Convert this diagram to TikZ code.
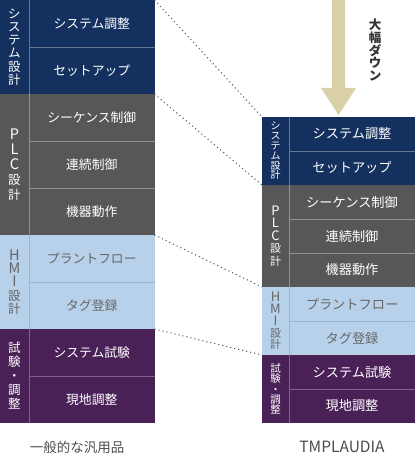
\documentclass[tikz,border=0pt]{standalone}
\usepackage{fontspec}
\setmainfont{Noto Sans CJK JP}
\definecolor{navy}{HTML}{14305E}
\definecolor{slate}{HTML}{575757}
\definecolor{lblue}{HTML}{B8D1EA}
\definecolor{plum}{HTML}{4A2157}
\definecolor{tan}{HTML}{D9D0A8}
\definecolor{txtgray}{HTML}{666666}
\definecolor{lbline}{HTML}{9BB6D2}
\definecolor{dotgray}{HTML}{555555}
\begin{document}
\begin{tikzpicture}[x=1pt,y=-1pt,
  cell/.style={inner sep=0pt, outer sep=0pt, anchor=north west},
  lcell/.style={cell, minimum width=125.5pt, minimum height=47pt, font=\fontsize{12.8}{14}\selectfont},
  rcell/.style={cell, minimum width=126pt, minimum height=34pt, font=\fontsize{13.2}{14}\selectfont},
  llab/.style={cell, minimum width=29pt, align=center},
  rlab/.style={cell, minimum width=27pt, align=center},
  divline/.style={line width=0.6pt},
  dotline/.style={dotgray, line width=1pt, dash pattern=on 1.1pt off 3pt},
  caption/.style={text=black!70, font=\fontsize{13.5}{15}\selectfont}
]
\useasboundingbox (0,0) rectangle (415,454);

% ---------- left column ----------
\foreach \i/\t/\c/\tc in {1/システム調整/navy/white, 2/セットアップ/navy/white,
  3/シーケンス制御/slate/white, 4/連続制御/slate/white, 5/機器動作/slate/white,
  6/プラントフロー/lblue/txtgray, 7/タグ登録/lblue/txtgray,
  8/システム試験/plum/white, 9/現地調整/plum/white}
  \node[lcell, fill=\c, text=\tc] (L\i) at (29, {(\i-1)*47}) {\t};

\node[llab, fill=navy, text=white, minimum height=94pt, font=\fontsize{12.5}{13.2}\selectfont] (LA) at (0,0)
  {シ\\ス\\テ\\ム\\設\\計};
\node[llab, fill=slate, text=white, minimum height=141pt, font=\fontsize{12.5}{15}\selectfont] (LB) at (0,94)
  {{\fontsize{14.5}{15}\selectfont P}\\{\fontsize{14.5}{15}\selectfont L}\\{\fontsize{14.5}{15}\selectfont C}\\設\\計};
\node[llab, fill=lblue, text=txtgray, minimum height=94pt, font=\fontsize{12.5}{13.2}\selectfont] (LC) at (0,235)
  {{\fontsize{14.5}{13.2}\selectfont H}\\{\fontsize{14.5}{13.2}\selectfont M}\\{\fontsize{14.5}{13.2}\selectfont I}\\設\\計};
\node[llab, fill=plum, text=white, minimum height=94pt, font=\fontsize{12.5}{14}\selectfont] (LD) at (0,329)
  {試\\験\\・\\調\\整};

% dividers left
\draw[divline, white!35!navy] (LA.north east) -- (LA.south east);
\draw[divline, white!35!slate] (LB.north east) -- (LB.south east);
\draw[divline, lbline] (LC.north east) -- (LC.south east);
\draw[divline, white!30!plum] (LD.north east) -- (LD.south east);
\draw[divline, white!35!navy] (L1.south west) -- (L1.south east);
\draw[divline, white!35!slate] (L3.south west) -- (L3.south east);
\draw[divline, white!35!slate] (L4.south west) -- (L4.south east);
\draw[divline, lbline] (L6.south west) -- (L6.south east);
\draw[divline, white!30!plum] (L8.south west) -- (L8.south east);

% ---------- right column ----------
\foreach \i/\t/\c/\tc in {1/システム調整/navy/white, 2/セットアップ/navy/white,
  3/シーケンス制御/slate/white, 4/連続制御/slate/white, 5/機器動作/slate/white,
  6/プラントフロー/lblue/txtgray, 7/タグ登録/lblue/txtgray,
  8/システム試験/plum/white, 9/現地調整/plum/white}
  \node[rcell, fill=\c, text=\tc] (R\i) at (289, {117+(\i-1)*34}) {\t};

\node[rlab, fill=navy, text=white, minimum height=68pt, font=\fontsize{10}{9.8}\selectfont] (RA) at (262,117)
  {シ\\ス\\テ\\ム\\設\\計};
\node[rlab, fill=slate, text=white, minimum height=102pt, font=\fontsize{11}{12.5}\selectfont] (RB) at (262,185)
  {{\fontsize{13}{12.5}\selectfont P}\\{\fontsize{13}{12.5}\selectfont L}\\{\fontsize{13}{12.5}\selectfont C}\\設\\計};
\node[rlab, fill=lblue, text=txtgray, minimum height=68pt, font=\fontsize{11}{11.8}\selectfont] (RC) at (262,287)
  {{\fontsize{13}{11.8}\selectfont H}\\{\fontsize{13}{11.8}\selectfont M}\\{\fontsize{13}{11.8}\selectfont I}\\設\\計};
\node[rlab, fill=plum, text=white, minimum height=68pt, font=\fontsize{10.5}{10.3}\selectfont] (RD) at (262,355)
  {試\\験\\・\\調\\整};

\draw[divline, white!35!navy] (RA.north east) -- (RA.south east);
\draw[divline, white!35!slate] (RB.north east) -- (RB.south east);
\draw[divline, lbline] (RC.north east) -- (RC.south east);
\draw[divline, white!30!plum] (RD.north east) -- (RD.south east);
\draw[divline, white!35!navy] (R1.south west) -- (R1.south east);
\draw[divline, white!35!slate] (R3.south west) -- (R3.south east);
\draw[divline, white!35!slate] (R4.south west) -- (R4.south east);
\draw[divline, lbline] (R6.south west) -- (R6.south east);
\draw[divline, white!30!plum] (R8.south west) -- (R8.south east);

% ---------- dotted connectors ----------
\draw[dotline] (L1.north east) -- (RA.north west);
\draw[dotline] (L3.north east) -- (RB.north west);
\draw[dotline] (L6.north east) -- (RC.north west);
\draw[dotline] (L8.north east) -- (RD.north west);

% ---------- arrow ----------
\fill[tan] (332,0) -- (345,0) -- (345,88) -- (356,88) -- (338.5,115) -- (321,88) -- (332,88) -- cycle;
\node[align=center, text=black!80, font=\bfseries\fontsize{12.5}{12.8}\selectfont, inner sep=0pt] (down) at (375,50)
  {大\\幅\\ダ\\ウ\\ン};

% ---------- captions ----------
\node[caption] (capL) at (77,447) {一般的な汎用品};
\node[caption, font=\fontsize{15.5}{17}\selectfont] (capR) at (342,447) {TMPLAUDIA};
\end{tikzpicture}
\end{document}
